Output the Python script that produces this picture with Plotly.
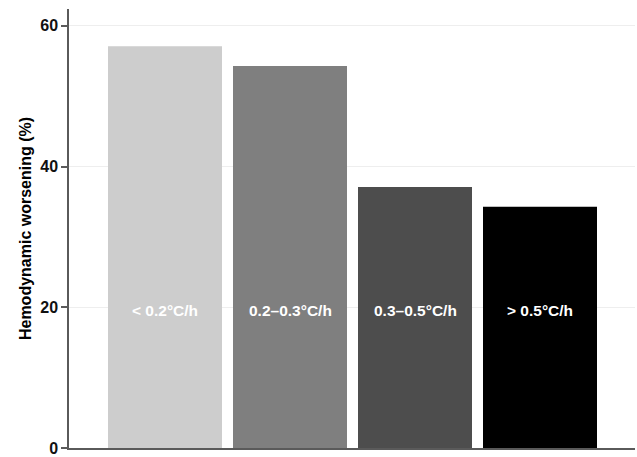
import plotly.graph_objects as go

categories = ["< 0.2°C/h", "0.2–0.3°C/h", "0.3–0.5°C/h", "> 0.5°C/h"]
values = [57.1, 54.3, 37.1, 34.3]
colors = ["#cdcdcd", "#7f7f7f", "#4d4d4d", "#000000"]
tick_vals = [0, 20, 40, 60]
tick_text = ["<b>0</b>", "<b>20</b>", "<b>40</b>", "<b>60</b>"]

xs = list(range(len(categories)))

fig = go.Figure()
fig.add_trace(go.Bar(
    x=xs, y=values,
    marker=dict(color=colors, line=dict(width=0)),
    width=0.912,
    showlegend=False,
    hoverinfo="skip",
))

for xi, lab in zip(xs, categories):
    fig.add_annotation(x=xi, y=19.6, text="<b>" + lab + "</b>", showarrow=False,
                       font=dict(family="Liberation Sans, Arial", size=15.5, color="white"),
                       xanchor="center", yanchor="middle")

fig.update_layout(
    width=637, height=457,
    margin=dict(l=69, r=2, t=9, b=9, autoexpand=False),
    paper_bgcolor="white", plot_bgcolor="white",
    font=dict(family="Liberation Sans, Arial", color="black"),
    xaxis=dict(range=[-0.768, 3.76], showticklabels=False, ticks="",
               showgrid=False, zeroline=False, automargin=False,
               showline=True, linecolor="#5a5a5a", linewidth=2),
    yaxis=dict(range=[0, 62.4], tickvals=tick_vals, ticktext=tick_text,
               ticks="outside", ticklen=6,
               tickcolor="#5a5a5a", tickwidth=1.5,
               tickfont=dict(size=16, color="#111111"),
               showgrid=True, gridcolor="#eeeeee", gridwidth=1,
               zeroline=False, automargin=False,
               showline=True, linecolor="#5a5a5a", linewidth=1.5,
               title=dict(text="<b>Hemodynamic worsening (%)</b>",
                          font=dict(size=16, color="black"), standoff=5)),
)

fig.write_html("out.html", config={"displayModeBar": False},
               post_script="document.body.style.margin='0';document.body.style.padding='0';")
